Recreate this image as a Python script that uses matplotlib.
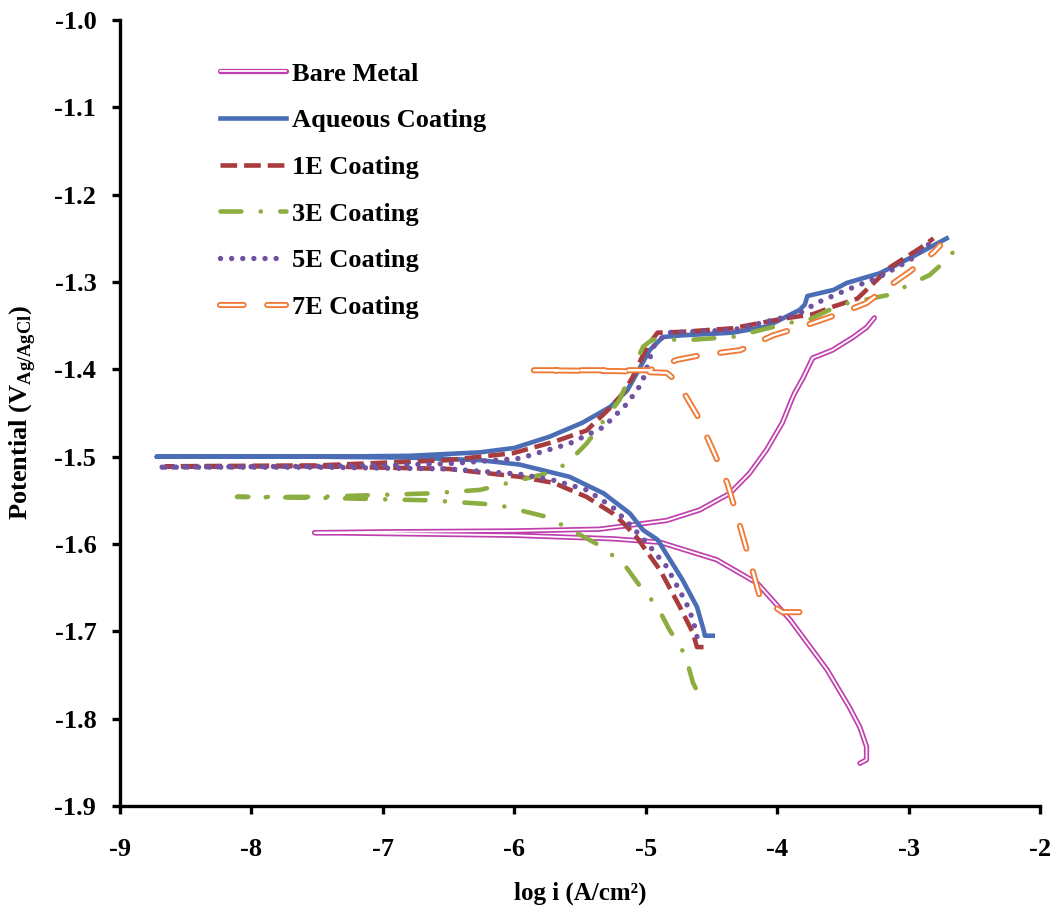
import matplotlib
matplotlib.use("Agg")
import matplotlib.pyplot as plt
import matplotlib.patheffects as pe

plt.rcParams['font.family'] = ['Liberation Serif', 'DejaVu Serif']
plt.rcParams['font.weight'] = 'bold'
plt.rcParams['mathtext.fontset'] = 'custom'
plt.rcParams['mathtext.rm'] = 'Liberation Serif:bold'
plt.rcParams['mathtext.bf'] = 'Liberation Serif:bold'
plt.rcParams['lines.scale_dashes'] = False

# polarisation curves: cathodic end -> Ecorr -> anodic end (log i, V)
bare_x = [-3.37, -3.32, -3.32, -3.37, -3.45, -3.62, -3.90, -4.15, -4.46, -4.89, -5.25, -6.0, -7.0, -7.52,
          -7.0, -6.0, -5.35, -4.84, -4.59, -4.36, -4.21, -4.08, -3.96, -3.89, -3.87, -3.80, -3.73, -3.58,
          -3.42, -3.32, -3.26]
bare_y = [-1.851, -1.847, -1.832, -1.810, -1.787, -1.744, -1.687, -1.645, -1.618, -1.598, -1.594, -1.590,
          -1.588, -1.587, -1.586, -1.585, -1.583, -1.573, -1.561, -1.542, -1.519, -1.492, -1.461, -1.435,
          -1.428, -1.409, -1.387, -1.378, -1.363, -1.352, -1.341]

aq_x = [-4.49, -4.55, -4.56, -4.61, -4.72, -4.91, -5.02, -5.12, -5.32, -5.58, -5.96, -6.26, -6.8, -7.5, -8.72,
        -7.5, -6.8, -6.26, -6.0, -5.73, -5.48, -5.27, -5.14, -5.04, -4.97, -4.87, -4.72, -4.34, -4.08,
        -3.83, -3.79, -3.77, -3.57, -3.47, -3.22, -2.97, -2.71]
aq_y = [-1.705, -1.705, -1.698, -1.672, -1.641, -1.595, -1.584, -1.565, -1.542, -1.523, -1.509, -1.504,
        -1.501, -1.500, -1.500, -1.500, -1.499, -1.495, -1.490, -1.477, -1.461, -1.443, -1.424, -1.397,
        -1.378, -1.363, -1.361, -1.358, -1.351, -1.332, -1.326, -1.316, -1.309, -1.301, -1.290, -1.271,
        -1.250]

e1_x = [-4.56, -4.61, -4.64, -4.74, -4.89, -5.07, -5.17, -5.25, -5.45, -5.70, -5.96, -6.5, -7.5, -8.65,
        -7.5, -6.51, -6.01, -5.70, -5.45, -5.29, -5.17, -5.10, -4.99, -4.91, -4.72, -4.34, -3.96, -3.73,
        -3.57, -3.39, -3.14, -2.91, -2.81]
e1_y = [-1.718, -1.718, -1.702, -1.672, -1.630, -1.592, -1.576, -1.565, -1.546, -1.530, -1.523, -1.514,
        -1.511, -1.511, -1.510, -1.504, -1.496, -1.483, -1.470, -1.447, -1.427, -1.409, -1.374, -1.358,
        -1.357, -1.353, -1.342, -1.337, -1.328, -1.319, -1.283, -1.261, -1.250]

e3_x = [-4.62, -4.64, -4.70, -4.82, -4.91, -5.04, -5.17, -5.37, -5.75, -6.13, -6.64, -7.5, -8.11,
        -7.5, -6.64, -6.26, -5.75, -5.60, -5.45, -5.20, -5.02, -4.95, -4.64, -4.34, -3.83, -3.77, -3.52,
        -3.16, -2.84, -2.70, -2.59]
e3_y = [-1.765, -1.759, -1.727, -1.698, -1.672, -1.649, -1.622, -1.600, -1.569, -1.555, -1.550, -1.547,
        -1.546, -1.546, -1.542, -1.538, -1.519, -1.508, -1.485, -1.435, -1.374, -1.366, -1.366, -1.363,
        -1.344, -1.344, -1.326, -1.315, -1.292, -1.273, -1.252]

e5_x = [-4.61, -4.64, -4.69, -4.84, -4.99, -5.10, -5.25, -5.45, -5.70, -5.96, -6.5, -7.5, -8.71,
        -7.5, -6.5, -5.96, -5.58, -5.32, -5.14, -5.03, -4.94, -4.84, -4.34, -3.83, -3.70, -3.47, -3.22,
        -2.99, -2.84]
e5_y = [-1.706, -1.687, -1.668, -1.626, -1.599, -1.581, -1.558, -1.538, -1.527, -1.520, -1.514, -1.512,
        -1.512, -1.511, -1.508, -1.502, -1.485, -1.466, -1.439, -1.416, -1.374, -1.358, -1.355, -1.336,
        -1.324, -1.309, -1.294, -1.275, -1.256]

e7_x = [-3.83, -3.96, -4.13, -4.21, -4.31, -4.38, -4.49, -4.61, -4.76, -4.84, -5.2, -5.86,
        -5.2, -4.97, -4.76, -4.59, -4.28, -4.03, -3.77, -3.52, -3.32, -3.19, -2.99, -2.81, -2.76]
e7_y = [-1.678, -1.678, -1.661, -1.618, -1.565, -1.530, -1.492, -1.452, -1.414, -1.404, -1.402, -1.401,
        -1.401, -1.401, -1.389, -1.384, -1.378, -1.361, -1.349, -1.336, -1.324, -1.309, -1.288, -1.266,
        -1.258]

x_ticks = [-9, -8, -7, -6, -5, -4, -3, -2]
y_ticks = [-1.9, -1.8, -1.7, -1.6, -1.5, -1.4, -1.3, -1.2, -1.1, -1.0]

fig = plt.figure(figsize=(10.55, 9.15), dpi=100)
ax = fig.add_axes([0.1137, 0.1191, 0.8721, 0.8590])

ax.plot(bare_x, bare_y, color='white', lw=1.3, solid_capstyle='round', label='Bare Metal',
        path_effects=[pe.Stroke(linewidth=3.8, foreground='#c03fae'), pe.Normal()])
ax.plot(aq_x, aq_y, color='#4a6db5', lw=3.3, label='Aqueous Coating')
ax.plot(e1_x, e1_y, color='#a83b3e', lw=3.3, dashes=(12, 5), label='1E Coating')
ax.plot(e3_x, e3_y, color='#8cae40', lw=3.3, dash_capstyle='round',
        dashes=(15, 14, 0.01, 14), label='3E Coating')
ax.plot(e5_x, e5_y, color='#7052a0', lw=3.9, dash_capstyle='round', dashes=(0.01, 8),
        label='5E Coating')
ax.plot(e7_x, e7_y, color='white', lw=1.7, dash_capstyle='round', dashes=(17, 17), label='7E Coating',
        path_effects=[pe.Stroke(linewidth=4.4, foreground='#ef7a36'), pe.Normal()])

ax.set_xlim(-9, -2)
ax.set_ylim(-1.9, -1.0)
ax.set_xticks(x_ticks)
ax.set_yticks(y_ticks)
ax.set_xticklabels([f'{t:d}' for t in x_ticks])
ax.set_yticklabels([f'{t:.1f}' for t in y_ticks])

for s in ['top', 'right']:
    ax.spines[s].set_visible(False)
for s in ['left', 'bottom']:
    ax.spines[s].set_linewidth(2.4)
ax.tick_params(direction='out', length=6, width=2.4, labelsize=19, pad=11)
ax.tick_params(axis='x', pad=17)

ax.set_xlabel('log i (A/cm²)', fontsize=18, fontweight='bold', labelpad=15)
ax.set_ylabel(r'Potential (V$_{\mathregular{Ag/AgCl}}$)', fontsize=19, fontweight='bold', labelpad=12)

leg = ax.legend(loc='upper left', bbox_to_anchor=(0.097, 0.96), frameon=False, fontsize=19,
                handlelength=2.5, handletextpad=0.25, labelspacing=0.88, borderaxespad=0)

fig.savefig('out.png', dpi=100, facecolor='white')
